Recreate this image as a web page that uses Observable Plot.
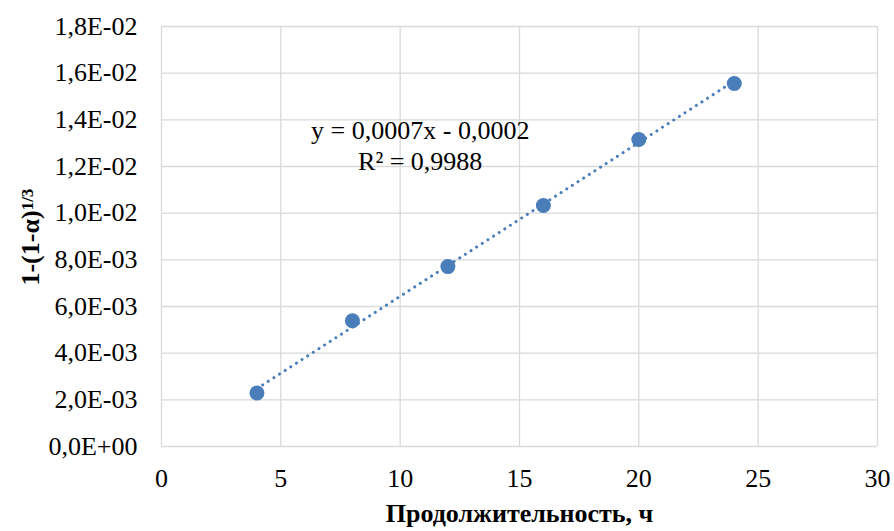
<!DOCTYPE html>
<html>
<head>
<meta charset="utf-8">
<script src="https://cdn.jsdelivr.net/npm/d3@7"></script>
<script src="https://cdn.jsdelivr.net/npm/@observablehq/plot@0.6"></script>
<style>
  html, body { margin: 0; padding: 0; background: #fff; }
  #chart { width: 894px; height: 531px; }
  #chart svg, #chart svg text { font-family: "Liberation Serif", "Times New Roman", serif; }
</style>
</head>
<body>
<div id="chart"></div>
<script>
// Data
const hours = [4, 8, 12, 16, 20, 24];
const values = [0.00229, 0.00539, 0.00771, 0.01033, 0.01316, 0.01556];

const xTicks = [0, 5, 10, 15, 20, 25, 30];
const yTicks = [0, 0.002, 0.004, 0.006, 0.008, 0.010, 0.012, 0.014, 0.016, 0.018];
const yTickLabels = ["0,0E+00", "2,0E-03", "4,0E-03", "6,0E-03", "8,0E-03",
                     "1,0E-02", "1,2E-02", "1,4E-02", "1,6E-02", "1,8E-02"];

const xTitle = "Продолжительность, ч";
const yTitleMain = "1-(1-α)";
const yTitleSup = "1/3";
const equationLines = ["y = 0,0007x - 0,0002", "R² = 0,9988"];
const equationAt = {x: 10.84, y: 0.01295};

const data = hours.map((t, i) => ({t, v: values[i]}));
const blue = "#4a7ebb";
const grid = "#d9d9d9";
const serif = "Liberation Serif";

const chart = Plot.plot({
  width: 894,
  height: 531,
  marginLeft: 161,
  marginRight: 17,
  marginTop: 26,
  marginBottom: 85,
  style: {color: "#000", background: "#fff", fontSize: "26px", fontFamily: serif},
  x: {domain: [0, 30]},
  y: {domain: [0, 0.018]},
  marks: [
    Plot.gridX(xTicks, {stroke: grid, strokeOpacity: 1, strokeWidth: 1.3}),
    Plot.gridY(yTicks, {stroke: grid, strokeOpacity: 1, strokeWidth: 1.3}),
    Plot.axisX(xTicks, {tickSize: 0, tickPadding: 22, fontSize: 26, fontFamily: serif, label: null}),
    Plot.axisY(yTicks, {tickSize: 0, tickPadding: 24, fontSize: 26, fontFamily: serif, label: null,
      tickFormat: d => yTickLabels[yTicks.indexOf(d)]}),
    Plot.linearRegressionY(data, {x: "t", y: "v", ci: 0, stroke: blue, strokeWidth: 3,
      strokeDasharray: "0.1 6.6", strokeLinecap: "round"}),
    Plot.dot(data, {x: "t", y: "v", r: 7.5, fill: blue, stroke: null}),
    Plot.text([equationLines.join("\n")], {x: () => equationAt.x, y: () => equationAt.y,
      fontSize: 26, fontFamily: serif, lineHeight: 1.21, fill: "#000"}),
    Plot.text([xTitle], {frameAnchor: "bottom", lineAnchor: "middle", textAnchor: "middle", dy: 67,
      fontSize: 26, fontFamily: serif, fontWeight: "bold", fill: "#000"}),
    Plot.text([yTitleMain], {frameAnchor: "left", textAnchor: "middle", lineAnchor: "middle", rotate: -90,
      dx: -131, dy: 11.5, fontSize: 26, fontFamily: serif, fontWeight: "bold", fill: "#000"}),
    Plot.text([yTitleSup], {frameAnchor: "left", textAnchor: "middle", lineAnchor: "middle", rotate: -90,
      dx: -133.5, dy: -37, fontSize: 17, fontFamily: serif, fontWeight: "bold", fill: "#000"})
  ]
});
document.getElementById("chart").appendChild(chart);
</script>
</body>
</html>
